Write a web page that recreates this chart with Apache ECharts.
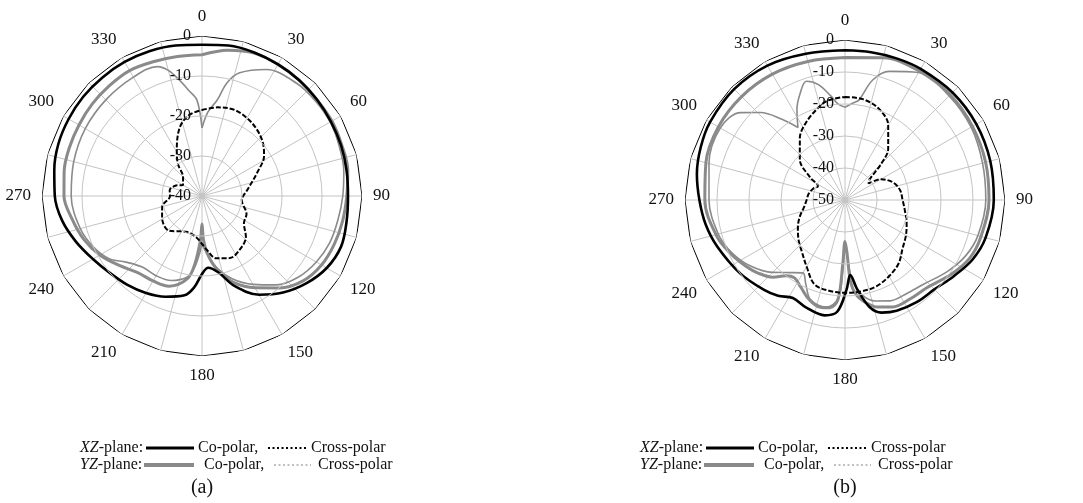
<!DOCTYPE html>
<html>
<head>
<meta charset="utf-8">
<script src="https://cdn.jsdelivr.net/npm/echarts@6/dist/echarts.min.js"></script>
<style>
  html, body { margin: 0; padding: 0; background: #fff; }
  #chart { width: 1083px; height: 503px; }
</style>
</head>
<body>
<div id="chart"></div>
<script>
// Radiation patterns, [angle (deg), gain (dB)] pairs.
// (a)
const xzCoA = [[0,-2.2],[10,-1.8],[20,-1.8],[30,-2],[40,-2.2],[50,-2.5],[60,-2.8],[70,-3],[80,-3.3],[90,-3.5],[100,-3.3],[110,-3],[120,-4],[130,-6],[140,-8.5],[150,-11.5],[160,-16],[168,-20.5],[175,-22],[180,-20.5],[185,-17],[190,-14.8],[200,-13.2],[210,-12],[220,-11],[230,-10],[240,-8.5],[250,-6.5],[260,-4.5],[270,-3.2],[280,-2.5],[290,-1.8],[300,-1.5],[310,-1.3],[320,-1.3],[330,-1.3],[340,-1.5],[350,-1.8],[360,-2.2]];
const xzCrossA = [[0,-18.5],[10,-17.5],[20,-17],[30,-17.5],[40,-18.5],[50,-20],[57,-21.5],[67,-25],[82,-28.5],[96,-30],[112,-28],[123,-27.5],[133,-25],[145,-23.6],[156,-23],[167,-24],[175,-26.5],[188,-29.6],[204,-30.2],[224,-28],[242,-28.7],[255,-29.7],[270,-32],[280,-31.8],[292,-33],[300,-34.5],[315,-33.3],[323,-30],[331,-27],[342,-22],[351,-19.5],[360,-18.5]];
const yzCoA = [[0,-4.7],[10,-3],[20,-2],[30,-2],[40,-2.2],[50,-2.5],[60,-2.5],[70,-2.8],[80,-3],[90,-3.8],[100,-4.3],[110,-4.8],[120,-5.5],[130,-7],[140,-10],[150,-13.5],[160,-17],[168,-21],[174,-25],[178,-29],[180,-33],[182,-29],[186,-23],[190,-19],[200,-16],[210,-15.5],[220,-15],[230,-13],[240,-10.5],[250,-8.5],[260,-7],[270,-5.5],[280,-5],[290,-4.7],[300,-4.5],[310,-4.2],[320,-4],[330,-3.8],[340,-4.3],[350,-4.6],[360,-4.7]];
const yzCrossA = [[0,-23],[4,-19],[9,-15.7],[12.5,-11],[17,-7.8],[27,-4.5],[40,-3.2],[50,-3],[60,-3],[70,-3.5],[80,-4],[90,-4.8],[100,-5.5],[110,-6],[120,-7],[130,-8.5],[140,-11],[150,-14.5],[160,-18],[168,-21.5],[174,-25],[178,-27],[180,-28],[182,-26],[186,-22],[190,-19.5],[200,-17.5],[210,-17],[220,-16.8],[229,-14.8],[236,-12],[245,-10],[255,-8.5],[270,-7.3],[285,-6.8],[300,-6.3],[315,-6],[330,-5.7],[341,-5.8],[345,-7.5],[349,-10.5],[353,-13.5],[357,-16],[360,-23]];

// (b)
const xzCoB = [[0,-3.2],[10,-3.1],[20,-2.9],[30,-2.7],[45,-2.5],[60,-2.6],[75,-3],[90,-3.5],[105,-4.5],[115,-6],[125,-8.5],[135,-10.5],[145,-11],[155,-11.8],[162,-13],[167,-15.6],[172,-21.6],[176,-26.5],[179,-22],[184,-15],[190,-13.4],[200,-14.3],[208,-15.3],[215,-13.5],[222,-12.2],[235,-10],[250,-7.5],[260,-5.8],[270,-4.5],[280,-3],[290,-2],[300,-1.3],[315,-1],[330,-1.5],[345,-2.7],[360,-3.2]];
const xzCrossB = [[0,-17.8],[10,-18],[20,-19.5],[30,-23],[40,-29],[45,-34],[50,-40],[55,-41],[60,-37],[70,-34],[80,-32.5],[90,-32],[100,-31],[110,-29.5],[120,-28],[130,-26.5],[140,-24],[150,-22.5],[160,-21.3],[170,-21],[180,-21],[190,-21.2],[200,-22],[210,-26],[220,-29],[230,-31],[240,-33],[250,-35],[260,-37],[270,-38],[280,-38.5],[290,-39.5],[297,-40.5],[303,-37],[312,-31],[324,-26],[333,-23],[342,-20.5],[350,-18.5],[360,-17.8]];
const yzCoB = [[0,-5.5],[15,-4],[30,-3.5],[45,-3.5],[60,-4],[75,-4.5],[90,-5],[105,-6],[115,-7],[125,-9.5],[137,-12.5],[147,-13],[156,-13.4],[163,-15],[168,-17],[173,-20],[176,-24],[178,-34],[180,-37],[182,-30],[184,-19],[188,-16],[193,-15.6],[200,-17],[207,-19.5],[213,-21],[218,-20],[223,-17],[230,-14.5],[236,-12.8],[245,-10.5],[254,-8.4],[270,-6.2],[285,-5],[300,-4.3],[315,-4.3],[330,-4.6],[345,-5.2],[360,-5.5]];
const yzCrossB = [[0,-21],[5,-19.5],[8,-18.4],[13,-11.5],[19,-7.5],[30,-4],[45,-4],[60,-4.5],[75,-5.5],[90,-6],[105,-7],[115,-8.5],[125,-11],[137,-14],[147,-15],[156,-15.5],[163,-17],[170,-20],[175,-25],[178,-33],[180,-35],[182,-27],[184,-19],[190,-16],[199,-17],[205,-21],[210,-23.7],[217,-21.6],[225,-18],[235,-14],[245,-11],[255,-9],[270,-7.5],[285,-6],[300,-5],[310,-7.5],[316,-12],[322,-18],[327,-23],[332,-18],[337,-14],[342,-11],[347,-13],[352,-17],[356,-20],[360,-21]];

// Axis ticks and labels
const angleTicks = [0,15,30,45,60,75,90,105,120,135,150,165,180,195,210,225,240,255,270,285,300,315,330,345,360];
const angleLabels = ['0','30','60','90','120','150','180','210','240','270','300','330'];
const radiusTicksA = [-40, -30, -20, -10, 0];
const radiusTicksB = [-50, -40, -30, -20, -10, 0];
const panelLabels = ['(a)', '(b)'];

const FONT = "'Liberation Serif', 'Times New Roman', serif";
const GRID = '#c4c4c4';
const GRAY = '#8a8a8a';

const toPolar = arr => arr.map(p => [p[1], p[0]]);

function angleAxis(idx) {
  return {
    polarIndex: idx, type: 'value', min: 0, max: 360, interval: 15,
    startAngle: 90, clockwise: true,
    axisLine: { show: false }, axisTick: { show: false },
    axisLabel: {
      margin: 11, fontFamily: FONT, fontSize: 17, color: '#111',
      formatter: v => angleLabels.includes(String(v)) && v < 360 ? String(v) : ''
    },
    splitLine: { lineStyle: { color: GRID, width: 1 } }
  };
}
function radiusAxis(idx, ticks) {
  const colors = ticks.map((t, i) => i === ticks.length - 1 ? 'rgba(0,0,0,0)' : GRID);
  return {
    polarIndex: idx, type: 'value', min: ticks[0], max: ticks[ticks.length - 1], interval: 10,
    axisLine: { show: false }, axisTick: { show: false },
    axisLabel: { fontFamily: FONT, fontSize: 16, color: '#111', margin: 11 },
    splitLine: { lineStyle: { color: colors, width: 1 } },
    z: 10
  };
}
function frame(idx, top) {
  return {
    type: 'line', coordinateSystem: 'polar', polarIndex: idx, symbol: 'none', silent: true,
    data: angleTicks.map(a => [top, a]),
    lineStyle: { color: '#000', width: 1 }, z: 3
  };
}
function curve(idx, pts, color, width, dash) {
  return {
    type: 'line', coordinateSystem: 'polar', polarIndex: idx, symbol: 'none', smooth: 0.35,
    data: toPolar(pts),
    lineStyle: { color, width, type: dash || 'solid' }, z: 4
  };
}

// Legend block drawn as text + sample strokes
function legend(x0, yRow1, yRow2, cx, label) {
  const t = (x, y, text) => ({
    type: 'text', x, y,
    style: { text, font: '16px ' + FONT, fill: '#111', textVerticalAlign: 'middle' }
  });
  const plane = (x, y, p) => ({
    type: 'text', x, y,
    style: {
      text: '{i|' + p + '}{n|-plane:}', textVerticalAlign: 'middle',
      rich: { i: { font: 'italic 16px ' + FONT, fill: '#111' }, n: { font: '16px ' + FONT, fill: '#111' } }
    }
  });
  const ln = (x1, y, x2, color, w, dash) => ({
    type: 'line', shape: { x1, y1: y, x2, y2: y },
    style: { stroke: color, lineWidth: w, lineDash: dash || null }
  });
  return [
    plane(x0, yRow1, 'XZ'),
    ln(x0 + 66, yRow1, x0 + 114, '#000', 3),
    t(x0 + 118, yRow1, 'Co-polar,'),
    ln(x0 + 188, yRow1, x0 + 226, '#000', 2, [2, 2.5]),
    t(x0 + 231, yRow1, 'Cross-polar'),
    plane(x0, yRow2, 'YZ'),
    ln(x0 + 64, yRow2, x0 + 114, GRAY, 4),
    t(x0 + 124, yRow2, 'Co-polar,'),
    ln(x0 + 194, yRow2, x0 + 231, '#aaa', 1.5, [2, 2.5]),
    t(x0 + 238, yRow2, 'Cross-polar'),
    {
      type: 'text', x: cx, y: 488,
      style: { text: label, font: '20px ' + FONT, fill: '#111', textAlign: 'center', textVerticalAlign: 'middle' }
    }
  ];
}

const chart = echarts.init(document.getElementById('chart'), null, { renderer: 'canvas' });
chart.setOption({
  backgroundColor: '#fff',
  animation: false,
  polar: [
    { center: [202, 196], radius: 160 },
    { center: [845, 200], radius: 160 }
  ],
  angleAxis: [angleAxis(0), angleAxis(1)],
  radiusAxis: [radiusAxis(0, radiusTicksA), radiusAxis(1, radiusTicksB)],
  series: [
    frame(0, 0), frame(1, 0),
    curve(0, yzCrossA, GRAY, 1.6),
    curve(0, yzCoA, GRAY, 3),
    curve(0, xzCrossA, '#000', 2, [5, 2]),
    curve(0, xzCoA, '#000', 2.6),
    curve(1, yzCrossB, GRAY, 1.6),
    curve(1, yzCoB, GRAY, 3),
    curve(1, xzCrossB, '#000', 2, [5, 2]),
    curve(1, xzCoB, '#000', 2.6)
  ],
  graphic: [].concat(
    legend(80, 448, 465, 202, panelLabels[0]),
    legend(640, 448, 465, 845, panelLabels[1])
  )
});
</script>
</body>
</html>
